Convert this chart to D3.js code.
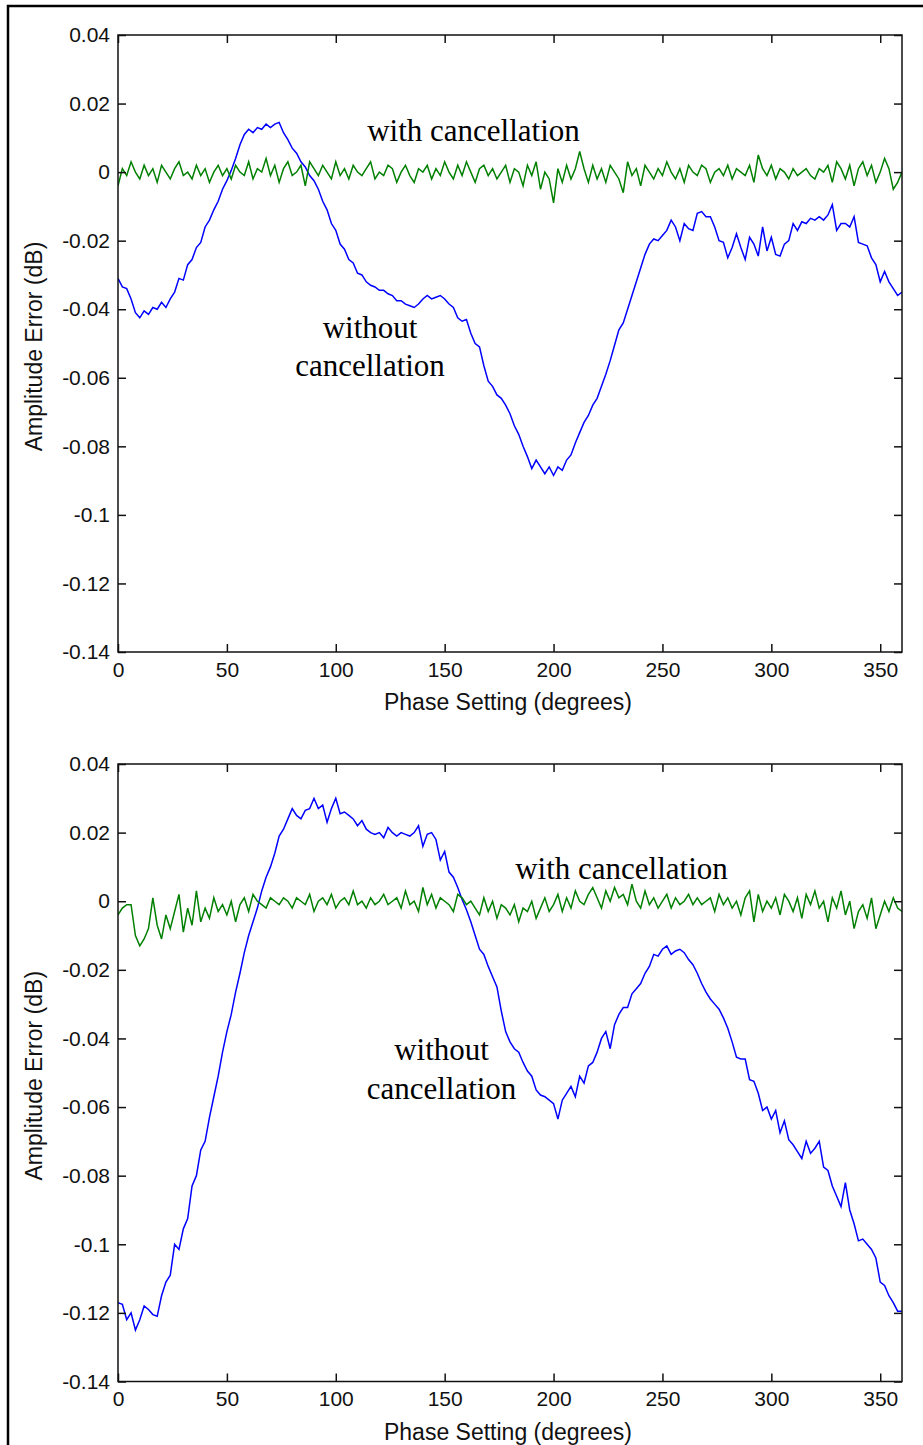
<!DOCTYPE html>
<html>
<head>
<meta charset="utf-8">
<script src="https://cdn.jsdelivr.net/npm/d3@7"></script>
<style>
  html, body { margin: 0; padding: 0; background: #fff; }
  svg { display: block; }
  .tick text { font-family: "Liberation Sans", Arial, sans-serif; font-size: 21px; fill: #111; }
  .axlabel { font-family: "Liberation Sans", Arial, sans-serif; font-size: 23px; fill: #111; }
  .annot { font-family: "Liberation Serif", "Times New Roman", serif; font-size: 31px; fill: #000; }
</style>
</head>
<body>
<svg id="chart" width="923" height="1445"></svg>
<script>
// ---------------- DATA ----------------
// Phase setting samples (degrees)
const phaseDeg = d3.range(0, 361, 2); // 181 samples

const xTicks = [0, 50, 100, 150, 200, 250, 300, 350];
const yTicks = [0.04, 0.02, 0, -0.02, -0.04, -0.06, -0.08, -0.1, -0.12, -0.14];
const yTickLabels = ["0.04", "0.02", "0", "-0.02", "-0.04", "-0.06", "-0.08", "-0.1", "-0.12", "-0.14"];

// Values in milli-dB (1/1000 dB)
// Top panel: without cancellation (blue)
const topWithout = [
  -31, -33.5, -34, -37, -41, -42.5, -40.5, -41.5, -39.5, -40,
  -38, -39.5, -37, -35, -31, -31.5, -27, -25.5, -22, -20.5,
  -16, -14, -11, -8.5, -5, -2.5, 0.5, 4, 8, 11,
  12.5, 11.5, 13, 12.5, 14, 13, 14, 14.5, 11.5, 9.5,
  7, 5.5, 3, 1.5, -1, -2.5, -5, -8.5, -11, -15,
  -17, -21, -22.5, -25.5, -26.5, -29.5, -30, -32, -33, -33.5,
  -34.5, -34.5, -35.5, -36, -37.5, -37.5, -38.5, -39, -39.5, -38.5,
  -37, -36, -37, -36.5, -36, -37, -38.5, -39.5, -42.5, -43.5,
  -43, -47, -50, -51, -56.5, -61, -62.5, -65, -66, -68,
  -70.5, -74, -76.5, -80, -83, -86.5, -84, -86, -88, -86,
  -88.5, -86, -87, -84, -82.5, -79, -76, -73, -71, -68,
  -66, -62.5, -59, -55, -50.5, -46, -44, -40, -36, -32,
  -28, -24, -21, -19.5, -20, -18.5, -17, -14, -16, -20,
  -15, -16.5, -17, -12, -11.5, -13, -13, -16, -20, -20.5,
  -25, -22, -18, -22, -25.5, -19, -21, -24.5, -16, -23,
  -19, -24, -24.5, -21, -20, -15, -17, -14.5, -15, -13.5,
  -14, -13, -14, -12.5, -9.5, -17, -15, -15, -16, -13,
  -20.5, -21, -21.5, -25, -27, -32, -29, -32, -34, -36,
  -35
];

// Top panel: with cancellation (green)
const topWith = [
  -4, 1, -1, 3, 0, -2, 2, -1, 1, -3,
  2, 0, -2, 1, 3, -1, 0, -2, 2, -1,
  1, -3, 0, 2, -1, 1, -2, 2, 0, -1,
  3, -2, 1, 0, 4, -1, 2, -3, 1, 3,
  -1, 0, 2, -4, 3, 1, -1, 2, 0, -2,
  3, -1, 1, -2, 2, 0, -1, 1, 3, -2,
  0, -1, 2, 1, -3, 0, 2, -1, -3, 1,
  0, 2, -2, 1, -1, 3, 0, -2, 2, -1,
  3, 0, -3, 1, 2, -1, 1, -2, 0, 2,
  -3, 1, 0, -4, 2, -1, 3, -5, 0, -2,
  -9, 1, -3, 2, -2, 1, 6, 1, -3, 2,
  -2, 1, -3, 2, 0, -2, -6, 3, -1, 1,
  -4, 2, 0, -2, 1, -1, 3, 0, -2, 1,
  -3, 2, 0, -1, 2, 1, -3, 0, 1, -1,
  2, -2, 1, 0, -1, 2, -3, 5, 1, -1,
  2, -2, 1, 0, -2, 1, -1, 0, 1, -1,
  -2, 1, 0, 2, -3, 3, 1, -2, 2, -4,
  1, 3, -1, 2, -3, 0, 4, 1, -5, -3,
  0
];

// Bottom panel: without cancellation (blue)
const bottomWithout = [
  -117, -117.5, -122, -120, -125, -122, -118, -119, -120.5, -121,
  -115, -111, -109, -100, -101.5, -95.5, -92.5, -83, -80, -72.5,
  -70, -63, -57, -51, -44, -38, -33, -26.5, -21, -15,
  -10, -6, -2, 3, 7, 10, 14, 19, 21, 24,
  27, 25, 24, 26.5, 27, 30, 27, 28, 23, 27,
  30, 25.5, 26, 25, 24, 22, 23.5, 21, 20, 19.5,
  20, 18.5, 21.5, 20, 19, 20, 19.5, 19, 20, 22,
  16, 19.5, 20, 18, 12, 14.5, 8.5, 7, 4, 0.5,
  -2.5, -6, -10, -14, -15.5, -19, -22, -25, -32, -38,
  -41, -43, -44, -47, -49.5, -51, -55, -56.5, -57, -58,
  -59, -63.5, -58, -56, -54, -57, -51, -53, -48, -47,
  -44, -40, -38, -43, -36, -33, -31, -31, -27, -25.5,
  -24, -21, -19, -15.5, -16, -14, -13, -15.5, -14.5, -14,
  -15, -17, -18.5, -21, -24, -26.5, -28.5, -30, -31.5, -34,
  -37, -41, -45.5, -46, -46, -52, -52.5, -56, -61, -60,
  -63.5, -61, -67.5, -64, -69.5, -71, -73, -75, -70, -73.5,
  -72, -70, -77.5, -78.5, -83, -86, -89, -82, -90, -94,
  -99, -98.5, -100, -101.5, -104, -111, -112, -115, -117, -119.5,
  -119.5
];

// Bottom panel: with cancellation (green)
const bottomWith = [
  -4, -2, -1, -1, -10, -13, -11, -8, 1, -7,
  -11, -4, -8, -3, 2, -9, -2, -7, 3, -6,
  -2, -5, 1, -3, -1, -4, 0, -6, -1, 1,
  -3, 2, 0, -1, -2, 1, 0, -1, 1, 0,
  -2, 1, 0, -1, 2, -3, 0, 1, -1, 2,
  -2, 0, 1, -1, 3, -1, 0, -2, 1, -1,
  0, 2, -1, 0, 1, -2, 3, -1, 0, -3,
  4, -1, 2, -2, 1, 0, -1, -3, 2, 1,
  -1, 0, -2, -4, 1, -3, 0, -5, -1, -2,
  -4, -1, -6, -2, -3, 0, -5, -2, 1, -3,
  -1, 2, -3, 1, -2, 3, 0, -1, 2, 4,
  1, -2, 3, 0, 4, 1, 2, -1, 5, 0,
  -2, 3, -1, 1, -2, 0, 2, -2, 1, -1,
  0, 2, -1, 1, -1, 0, 1, -3, 2, -1,
  1, -2, 0, -4, 1, 3, -6, 2, -3, 0,
  -2, 1, -4, 2, 0, -3, 1, -5, 2, -1,
  3, -2, 0, -6, 1, -2, 3, -4, 0, -8,
  -3, -1, -5, 1, -8, -4, 0, -3, 1, -2,
  -3
];

// ---------------- DRAW ----------------
const svg = d3.select("#chart");
svg.append("rect").attr("width", 923).attr("height", 1445).attr("fill", "#fff");
// outer frame
svg.append("rect").attr("x", 8).attr("y", 6).attr("width", 940).attr("height", 1460)
  .attr("fill", "none").attr("stroke", "#000").attr("stroke-width", 2.5);

const panels = [
  { top: 35, bottom: 652, without: topWithout, withC: topWith,
    withLabel: { x: 473.5, y: 141 },
    withoutLabel: { x: 370, y1: 338, y2: 376 } },
  { top: 764, bottom: 1381.5, without: bottomWithout, withC: bottomWith,
    withLabel: { x: 621.5, y: 879 },
    withoutLabel: { x: 441.5, y1: 1060, y2: 1099 } }
];

const left = 118, right = 902;
const x = d3.scaleLinear().domain([0, 360]).range([left, right]);

panels.forEach(p => {
  const y = d3.scaleLinear().domain([-0.14, 0.04]).range([p.bottom, p.top]);
  const g = svg.append("g");

  const toPts = arr => phaseDeg.map((d, i) => ({ x: d, y: arr[i] / 1000 }));
  const line = d3.line().x(d => x(d.x)).y(d => y(d.y));

  // clip
  const cid = "clip" + p.top;
  svg.append("clipPath").attr("id", cid).append("rect")
    .attr("x", left).attr("y", p.top).attr("width", right - left).attr("height", p.bottom - p.top);

  const lines = g.append("g").attr("clip-path", `url(#${cid})`);
  lines.append("path").datum(toPts(p.without)).attr("d", line)
    .attr("fill", "none").attr("stroke", "#0000ff").attr("stroke-width", 1.5);
  lines.append("path").datum(toPts(p.withC)).attr("d", line)
    .attr("fill", "none").attr("stroke", "#008000").attr("stroke-width", 1.5);

  // axes
  const ax = g.append("g").attr("transform", `translate(0,${p.bottom})`)
    .call(d3.axisBottom(x).tickValues(xTicks).tickSizeInner(-8).tickSizeOuter(0).tickPadding(10));
  const axT = g.append("g").attr("transform", `translate(0,${p.top})`)
    .call(d3.axisTop(x).tickValues(xTicks).tickSizeInner(-8).tickSizeOuter(0).tickFormat(""));
  const ay = g.append("g").attr("transform", `translate(${left},0)`)
    .call(d3.axisLeft(y).tickValues(yTicks).tickSizeInner(-8).tickSizeOuter(0).tickPadding(8)
      .tickFormat((d, i) => yTickLabels[i]));
  const ayR = g.append("g").attr("transform", `translate(${right},0)`)
    .call(d3.axisRight(y).tickValues(yTicks).tickSizeInner(-8).tickSizeOuter(0).tickFormat(""));
  [ax, axT, ay, ayR].forEach(a => {
    a.select(".domain").remove();
    a.selectAll(".tick line").attr("stroke", "#111").attr("stroke-width", 1.5);
  });
  g.append("rect").attr("x", left).attr("y", p.top).attr("width", right - left).attr("height", p.bottom - p.top)
    .attr("fill", "none").attr("stroke", "#111").attr("stroke-width", 1.5);

  // axis labels
  g.append("text").attr("class", "axlabel").attr("x", (left + right) / 2 - 2).attr("y", p.bottom + 58)
    .attr("text-anchor", "middle").text("Phase Setting (degrees)");
  g.append("text").attr("class", "axlabel")
    .attr("transform", `translate(42,${(p.top + p.bottom) / 2 + 3}) rotate(-90)`)
    .attr("text-anchor", "middle").text("Amplitude Error (dB)");

  // annotations
  g.append("text").attr("class", "annot").attr("x", p.withLabel.x).attr("y", p.withLabel.y)
    .attr("text-anchor", "middle").text("with cancellation");
  g.append("text").attr("class", "annot").attr("x", p.withoutLabel.x).attr("y", p.withoutLabel.y1)
    .attr("text-anchor", "middle").text("without");
  g.append("text").attr("class", "annot").attr("x", p.withoutLabel.x).attr("y", p.withoutLabel.y2)
    .attr("text-anchor", "middle").text("cancellation");
});
</script>
</body>
</html>
